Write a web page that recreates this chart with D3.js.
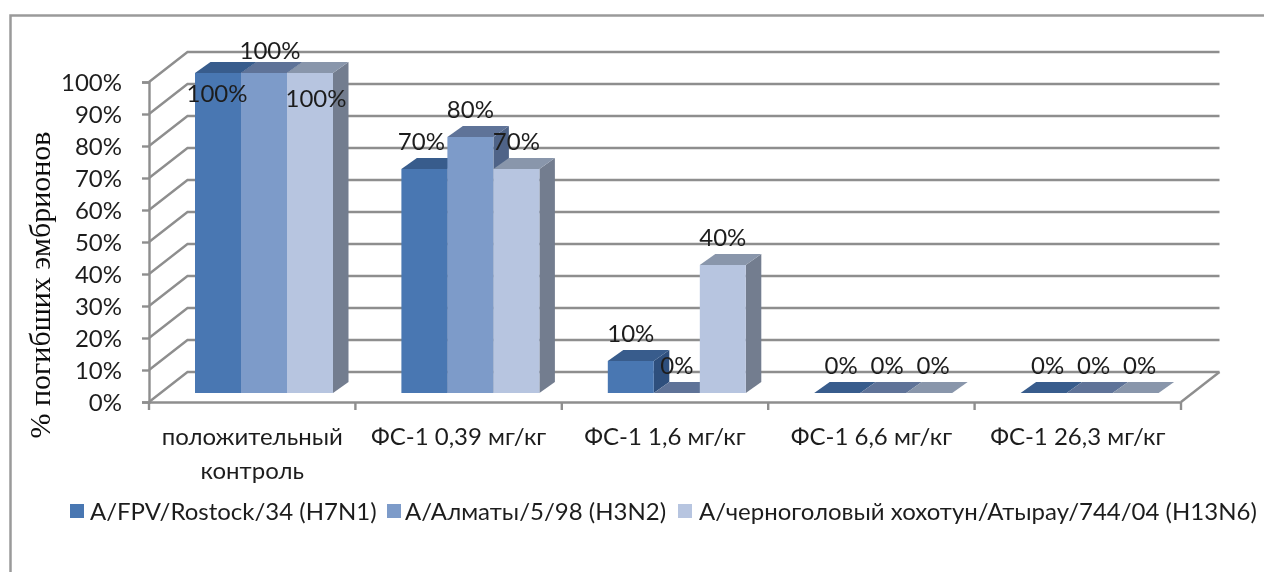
<!DOCTYPE html>
<html><head><meta charset="utf-8">
<script src="https://cdn.jsdelivr.net/npm/d3@7/dist/d3.min.js"></script>
<style>
html,body{margin:0;padding:0;background:#fff;overflow:hidden}
svg{display:block}
text{font-family:Lato,"Open Sans","Noto Sans",sans-serif;fill:#1f1f1f}
</style></head><body>
<svg id="c" width="1264" height="572"></svg>
<script>
const categories = ["положительный контроль","ФС-1 0,39 мг/кг","ФС-1 1,6 мг/кг","ФС-1 6,6 мг/кг","ФС-1 26,3 мг/кг"];
const seriesNames = ["А/FPV/Rostock/34 (H7N1)","А/Алматы/5/98 (H3N2)","А/черноголовый хохотун/Атырау/744/04 (H13N6)"];
const strain1 = [100,70,10,0,0];
const strain2 = [100,80,0,0,0];
const strain3 = [100,70,40,0,0];
const seriesValues = [strain1,strain2,strain3];
const yTicks = [0,10,20,30,40,50,60,70,80,90,100];
const yTitle = "% погибших эмбрионов";

const frontColors = ["#4a77b2","#7d9bc9","#b7c5e0"];
const topColors = ["#375c8c","#5e7398","#8996ab"];
const sideColors = ["#2e4f7d","#4f6487","#737d8f"];
const gridColor = "#8e8e8e";
const FS = 24;

const svg = d3.select("#c");
const defs = svg.append("defs");
defs.append("filter").attr("id","soft").attr("x",0).attr("y",0).attr("width","100%").attr("height","100%")
  .append("feGaussianBlur").attr("stdDeviation",0.45);
const root = svg.append("g").attr("filter","url(#soft)");
root.append("rect").attr("width",1264).attr("height",572).attr("fill","#fff");
const x0 = d3.scaleBand().domain(categories).range([149,1181]);
const x1 = d3.scaleBand().domain(d3.range(3)).range([46,46+138]);
const y = d3.scaleLinear().domain([0,100]).range([402,82]);
const wall = {dx:38.5,dy:-30};
const floorLift = -9;
const depth = {dx:15.5,dy:-11};

root.append("path").attr("d","M10.5,572V15.5H1264").attr("fill","none").attr("stroke","#9a9a9a").attr("stroke-width",2.5);

const grid = root.append("g").attr("fill","none").attr("stroke",gridColor).attr("stroke-width",2.4);
yTicks.forEach(t=>{
  grid.append("path").attr("d",d3.line()([[149,y(t)],[149+wall.dx,y(t)+wall.dy],[1181+wall.dx,y(t)+wall.dy]]));
});
grid.append("path").attr("d",d3.line()([[1181,402],[1181+wall.dx,402+wall.dy]]));

const yAxis = d3.axisLeft(y).tickValues(yTicks).tickFormat(d=>d+"%").tickSize(7).tickPadding(20);
const gy = root.append("g").attr("transform","translate(149,0)").call(yAxis);
const xAxis = d3.axisBottom(x0).tickSize(0).tickPadding(22);
const gx = root.append("g").attr("transform","translate(0,402)").call(xAxis);
[gy,gx].forEach(g=>{g.selectAll("path,line").attr("stroke",gridColor).attr("stroke-width",2.4);
  g.selectAll("text").attr("font-size",FS).attr("fill","#1f1f1f").attr("font-family",null);});
gx.selectAll(".tick line").remove();
root.append("g").selectAll("line").data(d3.range(6)).join("line")
  .attr("x1",i=>149+i*x0.step()).attr("x2",i=>149+i*x0.step()).attr("y1",402).attr("y2",410)
  .attr("stroke",gridColor).attr("stroke-width",2.4);
gy.selectAll(".tick text").attr("dy",".36em");

gx.selectAll(".tick text").each(function(){
  const t=d3.select(this);
  if(this.getComputedTextLength()<=x0.bandwidth()) { t.attr("dy",null).attr("y",43); return; }
  const words=t.text().split(" "); t.text(null).attr("dy",null);
  words.forEach((w,i)=>t.append("tspan").attr("x",0).attr("y",43+i*34).text(w));
});

const flat = [];
categories.forEach((c,ci)=>seriesValues.forEach((vals,si)=>flat.push({c,ci,si,v:vals[ci]})));
const bars = root.append("g");
flat.forEach(d=>{
  const xl=x0(d.c)+x1(d.si), w=x1.bandwidth(), b=y(0)+floorLift, t=y(d.v)+floorLift;
  const g=bars.append("g");
  g.append("path").attr("fill",sideColors[d.si]).attr("d",d3.line()([[xl+w,b],[xl+w+depth.dx,b+depth.dy],[xl+w+depth.dx,t+depth.dy],[xl+w,t]]));
  g.append("path").attr("fill",topColors[d.si]).attr("d",d3.line()([[xl,t],[xl+depth.dx,t+depth.dy],[xl+w+depth.dx,t+depth.dy],[xl+w,t]]));
  g.append("rect").attr("x",xl).attr("y",t).attr("width",w).attr("height",b-t).attr("fill",frontColors[d.si]);
});

const labelShift = {"0-0":[-1,48],"0-1":[6,5],"0-2":[6,53],"1-0":[-3,0],"3-0":[4,0],"3-1":[4,0],"3-2":[4,0],"4-0":[4,0],"4-1":[4,0],"4-2":[4,0]};
root.append("g").selectAll("text").data(flat).join("text")
  .attr("text-anchor","middle").attr("font-size",FS).attr("dy",".36em")
  .attr("x",d=>x0(d.c)+x1(d.si)+x1.bandwidth()/2+((labelShift[d.ci+"-"+d.si]||[0,0])[0]))
  .attr("y",d=>y(d.v)+floorLift-28+((labelShift[d.ci+"-"+d.si]||[0,0])[1]))
  .text(d=>d.v+"%");

root.append("text").attr("transform","translate(50,285) rotate(-90)").attr("text-anchor","middle")
  .attr("font-size",30).style("font-family","'Liberation Serif',serif").style("fill","#0d0d0d").text(yTitle);

const legendX = [[70,90],[387,405],[678,699]];
const legend = root.append("g");
seriesNames.forEach((n,i)=>{
  legend.append("rect").attr("x",legendX[i][0]).attr("y",504).attr("width",14).attr("height",14).attr("fill",frontColors[i]);
  legend.append("text").attr("x",legendX[i][1]).attr("y",511).attr("dy",".36em").attr("font-size",FS).text(n);
});
</script>
</body></html>
